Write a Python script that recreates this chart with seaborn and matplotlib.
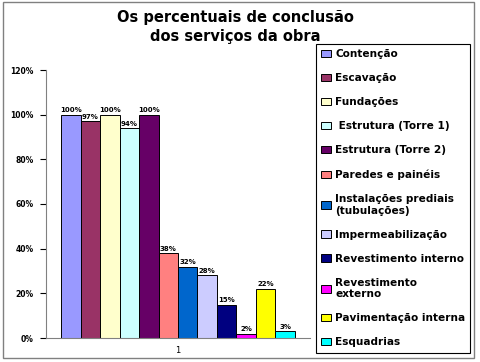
import pandas as pd
import numpy as np
import matplotlib.pyplot as plt
import matplotlib.patches as mpatches
import seaborn as sns

sns.set_style("white")
plt.rcParams["font.family"] = ["DejaVu Sans"]
plt.rcParams["text.color"] = "black"
plt.rcParams["xtick.color"] = "black"
plt.rcParams["ytick.color"] = "black"

# ---------------------------------------------------------
# Data
# ---------------------------------------------------------
servicos = [
    "Contenção", "Escavação", "Fundações", " Estrutura (Torre 1)",
    "Estrutura (Torre 2)", "Paredes e painéis",
    "Instalações prediais (tubulações)", "Impermeabilização",
    "Revestimento interno", "Revestimento externo",
    "Pavimentação interna", "Esquadrias",
]
percentuais = [1.00, 0.97, 1.00, 0.94, 1.00, 0.38, 0.32, 0.28, 0.15, 0.02, 0.22, 0.03]
cores = [
    "#9999FF", "#993366", "#FFFFCC", "#CCFFFF", "#660066", "#FF8080",
    "#0066CC", "#CCCCFF", "#000080", "#FF00FF", "#FFFF00", "#00FFFF",
]
grupo = ["1"] * len(servicos)
yticks = [0, 0.2, 0.4, 0.6, 0.8, 1.0, 1.2]
quebras = {
    "Instalações prediais (tubulações)": "Instalações prediais\n(tubulações)",
    "Revestimento externo": "Revestimento\nexterno",
}

df = pd.DataFrame({"grupo": grupo, "servico": servicos, "pct": percentuais})

# ---------------------------------------------------------
# Plot
# ---------------------------------------------------------
fig = plt.figure(figsize=(4.8, 3.62), dpi=100)
ax = fig.add_axes([46 / 480, 1 - 338 / 362, 264 / 480, 268 / 362])

sns.barplot(data=df, x="grupo", y="pct", hue="servico", hue_order=servicos,
            palette=cores, edgecolor="black", linewidth=0.7, ax=ax,
            saturation=1, legend=True)

for cont, v in zip(ax.containers, percentuais):
    ax.bar_label(cont, labels=[f"{v:.0%}"], padding=1, fontsize=5,
                 fontweight="bold", color="black")

ax.set_ylim(0, 1.2)
ax.set_xlim(-0.4513, 0.4513)
ax.set_yticks(yticks)
ax.set_yticklabels([f"{int(round(t * 100))}%" for t in yticks],
                   fontsize=5.5, fontweight="bold")
ax.tick_params(axis="y", length=4, width=0.8, pad=5, left=True)
ax.tick_params(axis="x", length=0, labelsize=6, pad=6)
ax.set_xlabel("")
ax.set_ylabel("")
for s in ["top", "right"]:
    ax.spines[s].set_visible(False)
for s in ["left", "bottom"]:
    ax.spines[s].set_color("#808080")
    ax.spines[s].set_linewidth(0.8)

handles, labels = ax.get_legend_handles_labels()
ax.get_legend().remove()
labels = [quebras.get(l, l) for l in labels]
leg = fig.legend(handles, labels, loc="upper left",
                 bbox_to_anchor=(316 / 480, 1 - 44 / 362),
                 prop={"size": 7.6, "weight": "bold"},
                 handlelength=0.9, handleheight=0.7, handletextpad=0.4,
                 labelspacing=1.33, borderpad=0.5, borderaxespad=0,
                 fancybox=False, edgecolor="black", framealpha=1)
leg.get_frame().set_linewidth(0.8)

fig.text(0.49, 1 - 27 / 362, "Os percentuais de conclusão\ndos serviços da obra",
         ha="center", va="center", fontsize=10.5, fontweight="bold",
         linespacing=1.3, color="black")

fig.patches.append(mpatches.Rectangle((3 / 480, 4 / 362), 471 / 480, 356 / 362,
                                      transform=fig.transFigure, fill=False,
                                      edgecolor="#808080", linewidth=1))

plt.savefig("out.png", dpi=100)
plt.close()
